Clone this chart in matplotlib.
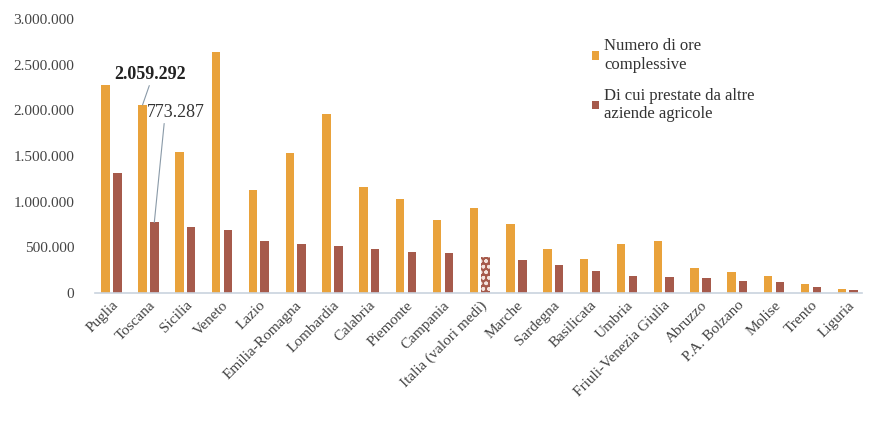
import numpy as np
import matplotlib
matplotlib.use("Agg")
import matplotlib.pyplot as plt
from matplotlib.ticker import FuncFormatter

# ================================
# Data
# ================================
regions = [
    "Puglia", "Toscana", "Sicilia", "Veneto", "Lazio", "Emilia-Romagna",
    "Lombardia", "Calabria", "Piemonte", "Campania", "Italia (valori medi)",
    "Marche", "Sardegna", "Basilicata", "Umbria", "Friuli-Venezia Giulia",
    "Abruzzo", "P.A. Bolzano", "Molise", "Trento", "Liguria",
]
ore_totali = [
    2275000, 2059292, 1549000, 2637000, 1132000, 1538000,
    1956000, 1165000, 1033000, 802000, 934000,
    758000, 483000, 374000, 538000, 571000,
    275000, 231000, 187000, 99000, 44000,
]
ore_altre_aziende = [
    1319000, 773287, 725000, 692000, 571000, 538000,
    516000, 483000, 451000, 440000, 396000,
    363000, 308000, 242000, 187000, 180000,
    165000, 132000, 121000, 70000, 30000,
]
label_totali = "Numero di ore\ncomplessive"
label_altre = "Di cui prestate da altre\naziende agricole"

ORANGE = "#E9A23B"
BROWN = "#A65A4B"

plt.rcParams["font.family"] = ["Liberation Serif", "DejaVu Serif"]

# ================================
# Plot
# ================================
fig = plt.figure(figsize=(8.72, 4.23), dpi=100)
ax = fig.add_axes([0.109, 0.307, 0.880, 0.648])

x = np.arange(len(regions))
w = 0.23
b1 = ax.bar(x - 0.16, ore_totali, width=w, color=ORANGE, label=label_totali)
b2 = ax.bar(x + 0.16, ore_altre_aziende, width=w, color=BROWN, label=label_altre)

# Italia (valori medi) brown bar is patterned
italia = regions.index("Italia (valori medi)")
b2[italia].set_hatch("ooo")
b2[italia].set_edgecolor("#F3E3DC")
b2[italia].set_linewidth(0)

ax.set_ylim(0, 3000000)
ax.set_xlim(-0.45, 20.4)
ax.set_yticks(np.arange(0, 3000001, 500000))
ax.yaxis.set_major_formatter(FuncFormatter(lambda v, p: f"{int(v):,}".replace(",", ".")))
ax.tick_params(axis="y", length=0, labelsize=11, colors="#444444", pad=15)
ax.set_xticks(x)
ax.set_xticklabels(regions, rotation=45, ha="right", rotation_mode="anchor",
                   fontsize=11, color="#444444")
ax.tick_params(axis="x", length=0, pad=4)

for s in ["top", "right", "left"]:
    ax.spines[s].set_visible(False)
ax.spines["bottom"].set_color("#C9D3DE")
ax.spines["bottom"].set_linewidth(1.2)

# Annotations on Toscana
tos = regions.index("Toscana")
ax.annotate(f"{ore_totali[tos]:,}".replace(",", "."),
            xy=(tos - 0.16, ore_totali[tos]), xytext=(tos + 0.05, 2395000),
            fontsize=13, fontweight="bold", color="#222222", ha="center", va="center",
            arrowprops=dict(arrowstyle="-", color="#8A9AA8", lw=0.8,
                            shrinkA=0, shrinkB=0, relpos=(0.5, 0.0)))
ax.annotate(f"{ore_altre_aziende[tos]:,}".replace(",", "."),
            xy=(tos + 0.16, ore_altre_aziende[tos]), xytext=(tos + 0.75, 1980000),
            fontsize=13, color="#333333", ha="center", va="center",
            arrowprops=dict(arrowstyle="-", color="#8A9AA8", lw=0.8,
                            shrinkA=0, shrinkB=0, relpos=(0.3, 0.0)))

ax.legend(loc="upper left", bbox_to_anchor=(0.628, 0.985), frameon=False,
          fontsize=12, handlelength=0.4, handleheight=0.4, handletextpad=0.35,
          labelspacing=0.9, labelcolor="#333333")

fig.savefig("out.png", dpi=100)
